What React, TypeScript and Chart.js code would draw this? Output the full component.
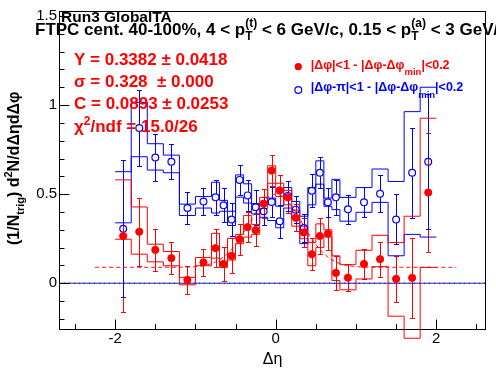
import React, { useEffect, useRef } from 'react';
import { Chart, registerables } from 'chart.js';

Chart.register(...registerables);

const FONT = '"Liberation Sans", Arial, Helvetica, sans-serif';

// Axis ranges
const X_MIN = -2.7;
const X_MAX = 2.62;
const Y_MIN = -0.257;
const Y_MAX = 1.528;

const X_TICKS = [-2.5, -2, -1.5, -1, -0.5, 0, 0.5, 1, 1.5, 2, 2.5];
const X_MAJOR = [-2, 0, 2];
const X_LABELS = ['-2', '0', '2'];
const Y_TICKS = [-0.2, -0.1, 0, 0.1, 0.2, 0.3, 0.4, 0.5, 0.6, 0.7, 0.8, 0.9, 1.0, 1.1, 1.2, 1.3, 1.4, 1.5];
const Y_MAJOR = [0, 0.5, 1, 1.5];
const Y_LABELS = ['0', '0.5', '1', '1.5'];

// Variable-width Δη bins
const BIN_EDGES = [-2.0, -1.8, -1.6, -1.4, -1.2, -1.0, -0.8, -0.7, -0.6, -0.5, -0.4, -0.3, -0.2, -0.1, 0.0,
  0.1, 0.2, 0.3, 0.4, 0.5, 0.6, 0.7, 0.8, 1.0, 1.2, 1.4, 1.6, 1.8, 2.0];

// |Δφ|<1 (near side, red)
const NEAR_VALUES = [0.265, 0.289, 0.187, 0.141, 0.019, 0.117, 0.197, 0.108, 0.154, 0.247, 0.315, 0.298, 0.447, 0.632,
  0.521, 0.482, 0.367, 0.285, 0.163, 0.265, 0.278, 0.058, 0.031, 0.108, 0.135, 0.024, 0.030, 0.509];
const NEAR_ERRORS = [0.425, 0.190, 0.116, 0.088, 0.080, 0.075, 0.105, 0.093, 0.097, 0.087, 0.086, 0.090, 0.083, 0.086,
  0.084, 0.089, 0.075, 0.079, 0.090, 0.100, 0.094, 0.097, 0.077, 0.084, 0.098, 0.131, 0.224, 0.333];
const NEAR_SYS_HIGH = [0.580, 0.428, 0.219, 0.178, 0.033, 0.144, 0.280, 0.117, 0.252, 0.274, 0.380, 0.330, 0.482, 0.659,
  0.561, 0.520, 0.410, 0.320, 0.228, 0.333, 0.300, 0.154, 0.104, 0.185, 0.269, 0.228, 0.376, 0.926];
const NEAR_SYS_LOW = [0.247, 0.163, 0.120, 0.098, -0.009, 0.098, 0.141, 0.089, 0.130, 0.222, 0.259, 0.274, 0.419, 0.561,
  0.487, 0.440, 0.320, 0.250, 0.098, 0.200, 0.260, 0.015, -0.037, 0.024, 0.093, -0.185, -0.309, 0.089];

// |Δφ-π|<1 (away side, blue)
const AWAY_VALUES = [0.306, 0.871, 0.706, 0.682, 0.422, 0.459, 0.482, 0.437, 0.358, 0.580, 0.493, 0.426, 0.404, 0.456,
  0.348, 0.490, 0.413, 0.310, 0.519, 0.620, 0.454, 0.482, 0.415, 0.454, 0.502, 0.358, 0.620, 0.682];
const AWAY_ERRORS = [0.383, 0.213, 0.132, 0.097, 0.088, 0.076, 0.100, 0.095, 0.093, 0.086, 0.088, 0.100, 0.080, 0.085,
  0.093, 0.085, 0.074, 0.080, 0.092, 0.088, 0.083, 0.097, 0.080, 0.085, 0.105, 0.140, 0.254, 0.380];
const AWAY_SYS_HIGH = [0.626, 1.015, 0.783, 0.719, 0.444, 0.487, 0.567, 0.465, 0.404, 0.608, 0.558, 0.447, 0.437, 0.478,
  0.432, 0.537, 0.459, 0.376, 0.537, 0.687, 0.478, 0.583, 0.482, 0.537, 0.641, 0.571, 0.963, 1.100];
const AWAY_SYS_LOW = [0.339, 0.710, 0.635, 0.620, 0.380, 0.422, 0.394, 0.404, 0.324, 0.483, 0.450, 0.389, 0.370, 0.352,
  0.311, 0.422, 0.363, 0.222, 0.440, 0.556, 0.432, 0.413, 0.348, 0.398, 0.454, 0.154, 0.274, 0.259];

// Fit: C + Y/(σ√2π) exp(-x²/2σ²)
const FIT_Y = 0.3382;
const FIT_Y_ERR = 0.0418;
const FIT_SIGMA = 0.328;
const FIT_SIGMA_ERR = 0.0;
const FIT_C = 0.0893;
const FIT_C_ERR = 0.0253;
const FIT_CHI2 = '15.0';
const FIT_NDF = 26;
const FIT_RANGE = [-2.25, 2.25];

const RED = '#ff0000';
const BLUE = '#0000ff';

const centers = BIN_EDGES.slice(0, -1).map((e, i) => (e + BIN_EDGES[i + 1]) / 2);
const stepData = (vals: number[]) => BIN_EDGES.map((e, i) => ({ x: e, y: vals[Math.min(i, vals.length - 1)] }));
const pointData = (vals: number[]) => centers.map((c, i) => ({ x: c, y: vals[i] }));
const fitData = () => {
  const pts: { x: number; y: number }[] = [];
  const n = 225;
  for (let k = 0; k <= n; k++) {
    const x = FIT_RANGE[0] + ((FIT_RANGE[1] - FIT_RANGE[0]) * k) / n;
    const y = FIT_C + (FIT_Y / (FIT_SIGMA * Math.sqrt(2 * Math.PI))) * Math.exp(-(x * x) / (2 * FIT_SIGMA * FIT_SIGMA));
    pts.push({ x, y });
  }
  return pts;
};

type Seg = { t?: string; size?: number; dy?: number; sub?: string; sup?: string; subDy?: number; supDy?: number };

function drawRich(ctx: CanvasRenderingContext2D, x: number, y: number, segs: Seg[], base: number, bold: boolean, measureOnly = false) {
  let cx = x;
  const f = (s: number) => `${bold ? 'bold ' : ''}${s}px ${FONT}`;
  for (const s of segs) {
    if (s.t !== undefined) {
      ctx.font = f(s.size || base);
      if (!measureOnly) ctx.fillText(s.t, cx, y + (s.dy || 0));
      cx += ctx.measureText(s.t).width;
    } else {
      ctx.font = f(s.size || base * 0.7);
      let w = 0;
      if (s.sup) {
        if (!measureOnly) ctx.fillText(s.sup, cx, y + (s.supDy ?? -base * 0.45));
        w = Math.max(w, ctx.measureText(s.sup).width);
      }
      if (s.sub) {
        if (!measureOnly) ctx.fillText(s.sub, cx, y + (s.subDy ?? base * 0.3));
        w = Math.max(w, ctx.measureText(s.sub).width);
      }
      cx += w;
    }
  }
  return cx - x;
}

const rootPlugin = {
  id: 'rootStyle',
  beforeDatasetsDraw(chart: any) {
    const { ctx, chartArea } = chart;
    const xs = chart.scales.x;
    const ys = chart.scales.y;
    ctx.save();
    ctx.beginPath();
    ctx.rect(chartArea.left, chartArea.top, chartArea.right - chartArea.left, chartArea.bottom - chartArea.top);
    ctx.clip();
    ctx.lineWidth = 1;
    const series = [
      { vals: NEAR_VALUES, errs: NEAR_ERRORS, color: RED, r: 3.6 },
      { vals: AWAY_VALUES, errs: AWAY_ERRORS, color: BLUE, r: 3.6 },
    ];
    for (const s of series) {
      ctx.strokeStyle = s.color;
      ctx.beginPath();
      centers.forEach((c, i) => {
        const px = Math.round(xs.getPixelForValue(c)) + 0.5;
        const py = ys.getPixelForValue(s.vals[i]);
        const hi = Math.round(ys.getPixelForValue(s.vals[i] + s.errs[i])) + 0.5;
        const lo = Math.round(ys.getPixelForValue(s.vals[i] - s.errs[i])) + 0.5;
        if (hi < py - s.r) { ctx.moveTo(px, hi); ctx.lineTo(px, py - s.r); }
        if (lo > py + s.r) { ctx.moveTo(px, py + s.r); ctx.lineTo(px, lo); }
        ctx.moveTo(px - 2.5, hi); ctx.lineTo(px + 2.5, hi);
        ctx.moveTo(px - 2.5, lo); ctx.lineTo(px + 2.5, lo);
      });
      ctx.stroke();
    }
    ctx.restore();
  },
  afterDraw(chart: any) {
    const { ctx, chartArea } = chart;
    const xs = chart.scales.x;
    const ys = chart.scales.y;
    const { left, right, top, bottom } = chartArea;
    ctx.save();
    // frame
    ctx.strokeStyle = '#000';
    ctx.lineWidth = 1;
    ctx.strokeRect(left + 0.5, top + 0.5, right - left - 1, bottom - top);
    // inner ticks
    ctx.beginPath();
    xs.ticks.forEach((t: any) => {
      const px = Math.round(xs.getPixelForValue(t.value)) + 0.5;
      const len = X_MAJOR.some((m) => Math.abs(m - t.value) < 1e-6) ? 9.5 : 5;
      ctx.moveTo(px, bottom);
      ctx.lineTo(px, bottom - len);
    });
    ys.ticks.forEach((t: any) => {
      const py = Math.round(ys.getPixelForValue(t.value)) + 0.5;
      const len = Y_MAJOR.some((m) => Math.abs(m - t.value) < 1e-6) ? 10.5 : 5.5;
      ctx.moveTo(left, py);
      ctx.lineTo(left + len, py);
    });
    ctx.stroke();

    ctx.textBaseline = 'alphabetic';
    ctx.textAlign = 'left';
    // Titles
    ctx.fillStyle = '#000';
    drawRich(ctx, 61, 22, [{ t: 'Run3 GlobalTA' }], 15.5, true);
    drawRich(ctx, 35, 35, [
      { t: 'FTPC cent. 40-100%, 4 < p' },
      { sup: '(t)', sub: 'T', size: 12, supDy: -8, subDy: 5 },
      { t: ' < 6 GeV/c, 0.15 < p' },
      { sup: '(a)', sub: 'T', size: 12, supDy: -8, subDy: 5 },
      { t: ' < 3 GeV/c' },
    ], 17, true);

    // Fit stats
    ctx.fillStyle = RED;
    drawRich(ctx, 74, 65, [{ t: `Y = ${FIT_Y.toFixed(4)} ± ${FIT_Y_ERR.toFixed(4)}` }], 17, true);
    drawRich(ctx, 74, 87, [{ t: `σ = ${FIT_SIGMA.toFixed(3)}  ± ${FIT_SIGMA_ERR.toFixed(3)}` }], 17, true);
    drawRich(ctx, 74, 109, [{ t: `C = ${FIT_C.toFixed(4)} ± ${FIT_C_ERR.toFixed(4)}` }], 17, true);
    drawRich(ctx, 74, 131.5, [{ t: 'χ' }, { sup: '2', size: 12, supDy: -7 }, { t: `/ndf = ${FIT_CHI2}/${FIT_NDF}` }], 17, true);

    // Legend
    ctx.fillStyle = RED;
    ctx.strokeStyle = RED;
    ctx.beginPath();
    ctx.arc(298.3, 66.7, 3.6, 0, Math.PI * 2);
    ctx.fill();
    drawRich(ctx, 310.7, 68.5, [
      { t: '|Δφ|<1 - |Δφ-Δφ' },
      { sub: 'min', size: 9.5, subDy: 6 },
      { t: '|<0.2' },
    ], 12.5, true);
    ctx.fillStyle = BLUE;
    ctx.strokeStyle = BLUE;
    ctx.lineWidth = 1.2;
    ctx.beginPath();
    ctx.arc(298.3, 90, 3.4, 0, Math.PI * 2);
    ctx.stroke();
    drawRich(ctx, 310.7, 91, [
      { t: '|Δφ-π|<1 - |Δφ-Δφ' },
      { sub: 'min', size: 9.5, subDy: 7 },
      { t: '|<0.2' },
    ], 12.5, true);

    // Y-axis title (rotated)
    ctx.fillStyle = '#000';
    const ySegs: Seg[] = [
      { t: '(1/N' },
      { sub: 'trig', size: 11, subDy: 5 },
      { t: ') d' },
      { sup: '2', size: 11, supDy: -7 },
      { t: 'N/dΔηdΔφ' },
    ];
    const w = drawRich(ctx, 0, 0, ySegs, 16, true, true);
    ctx.translate(18.5, 168.3);
    ctx.rotate(-Math.PI / 2);
    drawRich(ctx, -w / 2, 0, ySegs, 16, true);
    ctx.restore();
  },
};

export default function App() {
  const ref = useRef<HTMLCanvasElement | null>(null);
  useEffect(() => {
    document.body.style.margin = '0';
    const canvas = ref.current;
    if (!canvas) return;
    const lineDs = (data: any[], color: string, extra: any = {}) => ({
      data,
      showLine: true,
      borderColor: color,
      borderWidth: 1,
      pointRadius: 0,
      fill: false,
      tension: 0,
      ...extra,
    });
    const chart = new Chart(canvas, {
      type: 'line',
      data: {
        datasets: [
          {
            data: pointData(NEAR_VALUES),
            showLine: false,
            pointRadius: 3.6,
            pointStyle: 'circle',
            pointBackgroundColor: RED,
            pointBorderColor: RED,
            pointBorderWidth: 1,
          },
          {
            data: pointData(AWAY_VALUES),
            showLine: false,
            pointRadius: 3.4,
            pointStyle: 'circle',
            pointBackgroundColor: 'rgba(0,0,0,0)',
            pointBorderColor: BLUE,
            pointBorderWidth: 1.2,
          },
          lineDs(stepData(NEAR_SYS_HIGH), RED, { stepped: 'before', clip: false }),
          lineDs(stepData(NEAR_SYS_LOW), RED, { stepped: 'before', clip: false }),
          lineDs(stepData(AWAY_SYS_HIGH), BLUE, { stepped: 'before', clip: false }),
          lineDs(stepData(AWAY_SYS_LOW), BLUE, { stepped: 'before', clip: false }),
          lineDs(fitData(), RED, { borderDash: [4, 3] }),
          lineDs([{ x: X_MIN, y: 0 }, { x: X_MAX, y: 0 }], '#1c1cb4', {}),
          lineDs([{ x: X_MIN, y: 0 }, { x: X_MAX, y: 0 }], '#000060', { borderDash: [1, 4] }),
        ] as any,
      },
      options: {
        responsive: false,
        animation: false,
        devicePixelRatio: 1,
        events: [],
        layout: { padding: { top: 7, right: 10, left: 0, bottom: 0 } },
        plugins: { legend: { display: false }, tooltip: { enabled: false } },
        scales: {
          x: {
            type: 'linear',
            min: X_MIN,
            max: X_MAX,
            afterBuildTicks: (s: any) => { s.ticks = X_TICKS.map((v) => ({ value: v })); },
            afterFit: (s: any) => { s.height = 45; },
            grid: { display: false, drawTicks: false },
            border: { display: false },
            ticks: {
              autoSkip: false,
              maxRotation: 0,
              padding: 1,
              color: '#000',
              font: { family: FONT, size: 15 },
              callback: (v: any) => {
                const k = X_MAJOR.findIndex((m) => Math.abs(m - Number(v)) < 1e-6);
                return k >= 0 ? X_LABELS[k] : '';
              },
            },
            title: { display: true, text: 'Δη', color: '#000', font: { family: FONT, size: 16 }, padding: { top: 0, bottom: 5 } },
          },
          y: {
            type: 'linear',
            min: Y_MIN,
            max: Y_MAX,
            afterBuildTicks: (s: any) => { s.ticks = Y_TICKS.map((v) => ({ value: v })); },
            afterFit: (s: any) => { s.width = 59; },
            grid: { display: false, drawTicks: false },
            border: { display: false },
            ticks: {
              autoSkip: false,
              padding: 2,
              color: '#000',
              font: { family: FONT, size: 15 },
              callback: (v: any) => {
                const k = Y_MAJOR.findIndex((m) => Math.abs(m - Number(v)) < 1e-6);
                return k >= 0 ? Y_LABELS[k] : '';
              },
            },
          },
        },
      } as any,
      plugins: [rootPlugin],
    });
    return () => chart.destroy();
  }, []);
  return (
    <div style={{ position: 'absolute', left: 0, top: 0, width: 496, height: 374, background: '#fff' }}>
      <canvas ref={ref} width={496} height={374} style={{ width: 496, height: 374 }} />
    </div>
  );
}
